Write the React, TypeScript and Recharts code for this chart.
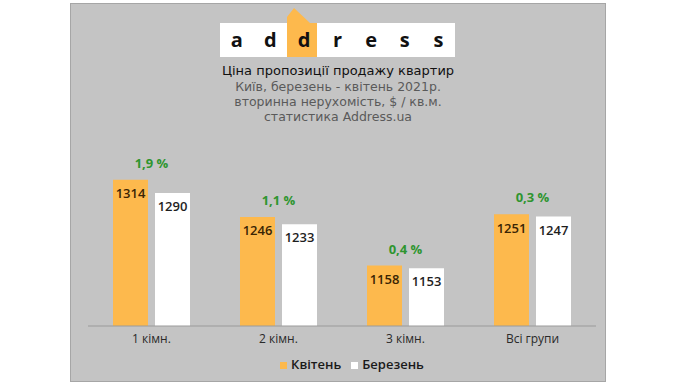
import React from "react";
import { BarChart, Bar, XAxis, YAxis, Legend, LabelList } from "recharts";

const categories = ["1 кімн.", "2 кімн.", "3 кімн.", "Всі групи"];
const kviten = [1314, 1246, 1158, 1251];
const berezen = [1290, 1233, 1153, 1247];
const change = ["1,9 %", "1,1 %", "0,4 %", "0,3 %"];

const data = categories.map((name, i) => ({
  name,
  Квітень: kviten[i],
  Березень: berezen[i],
}));

const font = "'Open Sans', sans-serif";
const titleFont = "'DejaVu Sans', sans-serif";
const ORANGE = "#fdb94d";
const BAR_GAP = 7;

const logoLetters = ["a", "d", "d", "r", "e", "s", "s"];

const Logo = () => (
  <div style={{ position: "absolute", left: 220, top: 0, width: 235, height: 60 }}>
    <svg width={235} height={60} style={{ position: "absolute", left: 0, top: 0 }}>
      <rect x={0} y={23} width={235} height={34} fill="#fff" />
      <polygon points="67,57 67,17 74,8 90,23 97,23 97,57" fill={ORANGE} />
    </svg>
    {logoLetters.map((l, i) => (
      <div
        key={i}
        style={{
          position: "absolute",
          left: i * 33.6,
          top: 26,
          width: 33.6,
          textAlign: "center",
          fontFamily: font,
          fontWeight: 700,
          fontSize: 20,
          lineHeight: "28px",
          color: "#111",
        }}
      >
        {l}
      </div>
    ))}
  </div>
);

const PercentLabel = (props: any) => {
  const { x, y, width, index } = props;
  return (
    <text
      x={x + width + BAR_GAP / 2}
      y={y - 12}
      textAnchor="middle"
      fill="#2e952f"
      fontFamily={font}
      fontWeight={700}
      fontSize={13}
    >
      {change[index]}
    </text>
  );
};

const legendOrder = (item: any) => (item.value === "Квітень" ? 0 : 1);

const App = () => {
  return (
    <div style={{ position: "absolute", left: 0, top: 0, width: 686, height: 386, background: "#fff" }}>
      <div
        style={{
          position: "absolute",
          left: 70,
          top: 3,
          width: 534,
          height: 377,
          background: "#c4c4c4",
          border: "1px solid #a6a6a6",
        }}
      />
      <Logo />
      <div
        style={{
          position: "absolute",
          left: 70,
          top: 62,
          width: 536,
          textAlign: "center",
          fontFamily: titleFont,
          fontSize: 12.5,
          lineHeight: "15px",
          color: "#5a5a5a",
        }}
      >
        <div style={{ color: "#111", fontSize: 13, lineHeight: "17px" }}>Ціна пропозиції продажу квартир</div>
        <div>Київ, березень - квітень 2021р.</div>
        <div>вторинна нерухомість, $ / кв.м.</div>
        <div>статистика Address.ua</div>
      </div>
      <div style={{ position: "absolute", left: 0, top: 0 }}>
        <BarChart
          width={686}
          height={386}
          data={data}
          margin={{ top: 150, right: 90, left: 88, bottom: 30 }}
          barSize={35}
          barGap={BAR_GAP}
        >
          <XAxis
            dataKey="name"
            tickLine={false}
            axisLine={{ stroke: "#9a9a9a" }}
            tick={{ fill: "#2a2a2a", fontSize: 12, fontFamily: font }}
          />
          <YAxis hide domain={[1048, 1368]} allowDataOverflow />
          <Legend
            layout="horizontal"
            verticalAlign="middle"
            align="center"
            iconType="square"
            iconSize={7}
            itemSorter={legendOrder}
            wrapperStyle={{ top: 355, left: 272, width: 170, fontFamily: font, fontSize: 13, fontWeight: 600 }}
            formatter={(v: string) => <span style={{ color: "#1a1a1a" }}>{v}</span>}
          />
          <Bar dataKey="Квітень" fill={ORANGE} isAnimationActive={false}>
            <LabelList
              dataKey="Квітень"
              position="insideTop"
              offset={9}
              fill="#3a2504"
              fontFamily={font}
              fontWeight={600}
              fontSize={13}
            />
            <LabelList dataKey="Квітень" content={PercentLabel} />
          </Bar>
          <Bar dataKey="Березень" fill="#ffffff" isAnimationActive={false}>
            <LabelList
              dataKey="Березень"
              position="insideTop"
              offset={9}
              fill="#1e1e1e"
              fontFamily={font}
              fontWeight={600}
              fontSize={13}
            />
          </Bar>
        </BarChart>
      </div>
    </div>
  );
};

export default App;
